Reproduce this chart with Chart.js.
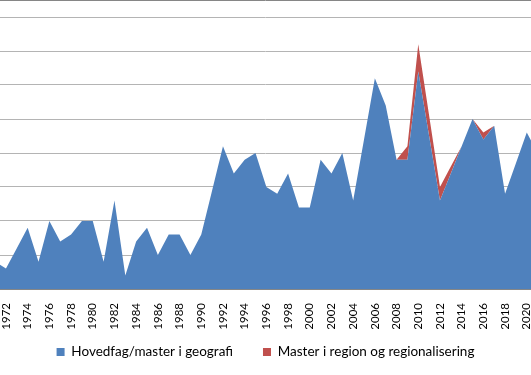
<!DOCTYPE html>
<html>
<head>
<meta charset="utf-8">
<script src="https://cdn.jsdelivr.net/npm/chart.js@4/dist/chart.umd.min.js"></script>
<style>
    html, body { margin: 0; padding: 0; background: #fff; overflow: hidden; }
    #wrap { position: relative; width: 531px; height: 375px; }
</style>
</head>
<body>
<div id="wrap"><canvas id="chart"></canvas></div>
<script>
var years = [1971, 1972, 1973, 1974, 1975, 1976, 1977, 1978, 1979, 1980,
    1981, 1982, 1983, 1984, 1985, 1986, 1987, 1988, 1989, 1990,
    1991, 1992, 1993, 1994, 1995, 1996, 1997, 1998, 1999, 2000,
    2001, 2002, 2003, 2004, 2005, 2006, 2007, 2008, 2009, 2010,
    2011, 2012, 2013, 2014, 2015, 2016, 2017, 2018, 2019, 2020, 2021];

// Hovedfag/master i geografi
var geografi = [4, 3, 6, 9, 4, 10, 7, 8, 10, 10,
    4, 13, 2, 7, 9, 5, 8, 8, 5, 8,
    14.5, 21, 17, 19, 20, 15, 14, 17, 12, 12,
    19, 17, 20, 13, 22, 31, 27, 19, 19, 32,
    22.5, 13, 17, 21, 25, 22, 24, 14, 18.5, 23, 20];

// Master i region og regionalisering (stacked on top)
var region = [null, null, null, null, null, null, null, null, null, null,
    null, null, null, null, null, null, null, null, null, null,
    null, null, null, null, null, null, null, null, null, null,
    null, null, null, null, null, null, null, 0, 2, 4,
    3, 2, 1, 0, 0, 1, 0, null, null, null, null];

var seriesNames = ["Hovedfag/master i geografi", "Master i region og regionalisering"];
var seriesColors = ["#4f81bd", "#c0504d"];

// visible part of the year axis, value axis
var xMin = 1971.45;
var xMax = 2020.39;
var yMax = 42.5;
var yStep = 5;

var legendPadding = 30;
var legendFontSize = 13.5;

// the legend's item gap also sets its height, so lift it after layout
var legendLift = {
    id: 'legendLift',
    afterLayout: function(chart) {
        var lg = chart.legend;
        if (!lg) return;
        var h = lg.bottom - lg.top;
        lg.top = 352 - legendPadding - legendFontSize / 2;
        lg.bottom = lg.top + h;
    },
};

var chart = new Chart(document.getElementById('chart'), {
    type: 'line',
    data: {
        labels: years,
        datasets: [{
            label: seriesNames[0],
            data: geografi,
            backgroundColor: seriesColors[0],
            borderWidth: 0,
            pointRadius: 0,
            fill: 'origin',
            tension: 0,
        }, {
            label: seriesNames[1],
            data: region,
            backgroundColor: seriesColors[1],
            borderWidth: 0,
            pointRadius: 0,
            fill: '-1',
            tension: 0,
        }],
    },
    plugins: [legendLift],
    options: {
        responsive: true,
        maintainAspectRatio: false,
        animation: false,
        events: [],
        layout: { padding: { left: 0, right: 0, top: 0, bottom: -7.5 } },
        scales: {
            x: {
                type: 'linear',
                min: xMin,
                max: xMax,
                grid: { display: false, drawTicks: false },
                border: { display: true, color: '#868686', width: 1 },
                ticks: {
                    stepSize: 2,
                    includeBounds: false,
                    autoSkip: false,
                    minRotation: 90,
                    maxRotation: 90,
                    padding: 14,
                    color: '#000',
                    font: { family: 'Lato', size: 11.5 },
                    callback: function(value) { return String(value); },
                },
                afterFit: function(scale) {
                    // labels hang below the axis, keep the plot full width
                    scale.paddingLeft = 0;
                    scale.paddingRight = 0;
                    scale.height = 40;
                },
            },
            y: {
                stacked: true,
                min: 0,
                max: yMax,
                grid: {
                    drawTicks: false,
                    color: function(ctx) {
                        return ctx.tick && ctx.tick.value === yMax ? '#868686' : '#b4b4b4';
                    },
                },
                border: { display: false },
                ticks: { display: false, stepSize: yStep },
                afterFit: function(scale) { scale.width = 0; },
            },
        },
        plugins: {
            tooltip: { enabled: false },
            legend: {
                position: 'bottom',
                labels: {
                    boxWidth: 8,
                    boxHeight: 8,
                    padding: legendPadding,
                    color: '#000',
                    font: { family: 'Lato', size: legendFontSize },
                },
            },
        },
    },
});
</script>
</body>
</html>
